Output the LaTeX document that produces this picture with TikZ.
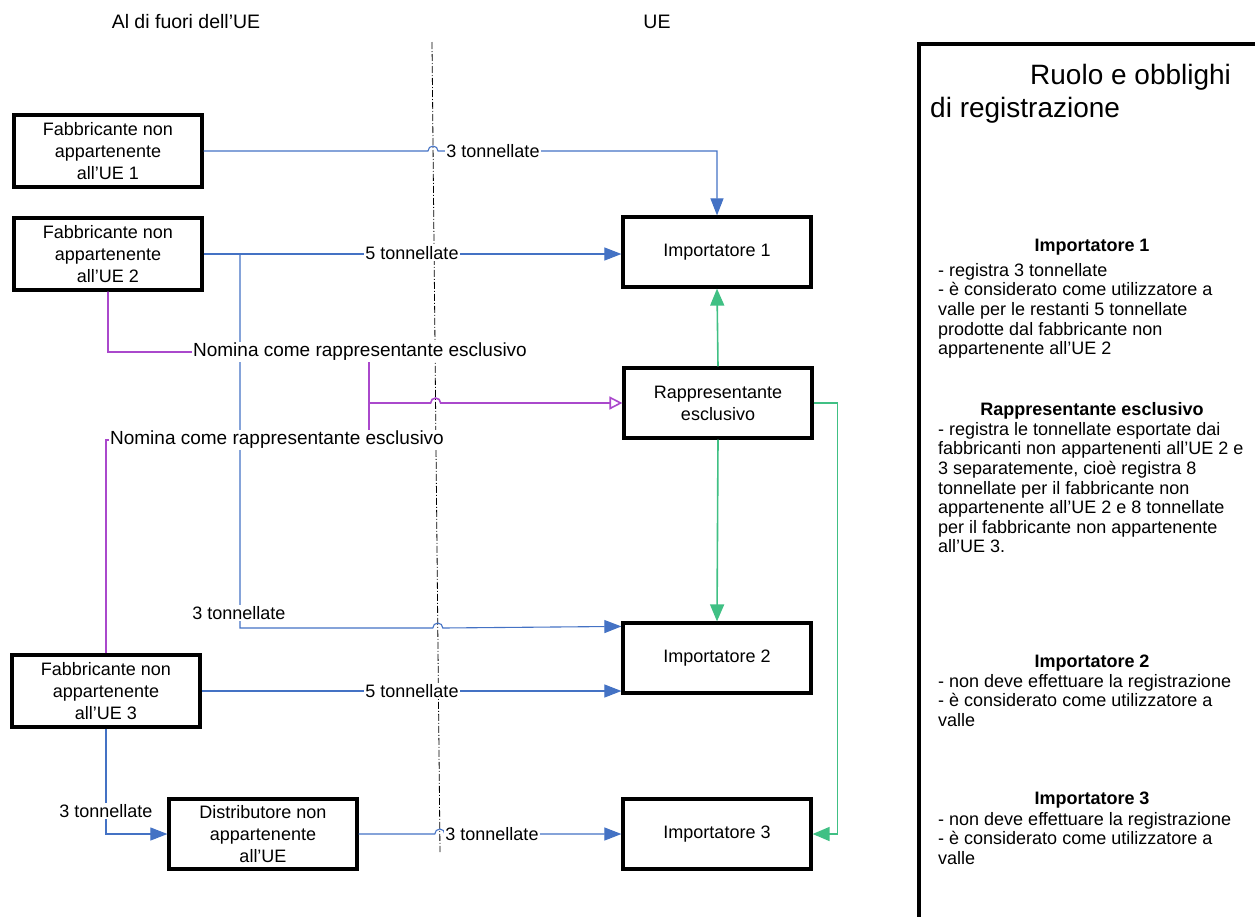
\documentclass[tikz,border=0pt]{standalone}
\usepackage{fontspec}
\setmainfont{Liberation Sans}
\usepackage{xcolor}
\usetikzlibrary{arrows.meta}

\definecolor{flussoblu}{RGB}{68,114,196}
\definecolor{nominaviola}{RGB}{170,72,204}
\definecolor{rapverde}{RGB}{64,192,132}

\begin{document}
\begin{tikzpicture}[x=1pt,y=-1pt,
	box/.style={draw,line width=3.2pt,minimum width=188pt,minimum height=70pt,inner sep=2pt,align=center,font=\fontsize{18}{22}\selectfont},
	lbl/.style={fill=white,inner sep=1pt,font=\fontsize{18}{22}\selectfont},
	hdr/.style={anchor=base,inner sep=0pt,font=\fontsize{18}{22}\selectfont\bfseries},
	body/.style={anchor=north west,inner sep=0pt,align=left,font=\fontsize{18}{19.6}\selectfont},
	flusso/.style={flussoblu,line width=1.1pt,-{Triangle[length=17pt,width=13pt]}},
	nomina/.style={nominaviola,line width=1.6pt},
	verde/.style={rapverde,line width=1.6pt,-{Triangle[length=17pt,width=14pt]}}
	]
	\useasboundingbox (0,0) rectangle (1255,916);
	
	% We will draw the two zones here
	\node[lbl,font=\fontsize{19.5}{22}\selectfont] (fuori) at (186,22) {Al di fuori dell’UE};
	\node[lbl,font=\fontsize{19.5}{22}\selectfont] (dentro) at (657,22) {UE};
	\coordinate (eutop) at (432,42);
	\coordinate (eubot) at (440,852);
	\draw[line width=0.8pt,dash pattern=on 7pt off 2pt on 1pt off 2pt] (eutop) -- (eubot);
	
	% boxes
	\node[box,minimum height=72pt] (f1) at (108,151) {Fabbricante non\\appartenente\\all’UE 1};
	\node[box,minimum height=72pt] (f2) at (108,254) {Fabbricante non\\appartenente\\all’UE 2};
	\node[box,minimum height=72pt] (f3) at (106,691) {Fabbricante non\\appartenente\\all’UE 3};
	\node[box] (dist) at (263,834) {Distributore non\\appartenente\\all’UE};
	\node[box] (imp1) at (717,252) {Importatore 1};
	\node[box] (rapp) at (718,403) {Rappresentante\\esclusivo};
	\node[box] (imp2) at (717,658) {Importatore 2};
	\node[box] (imp3) at (717,834) {Importatore 3};
	
	% blue flows
	\draw[flusso] (f1.east) -- (428,151) arc[start angle=180,end angle=0,radius=5pt] -- (717,151) -- (imp1.north);
	\draw[flusso] (f2.east) -- (f2.east -| imp1.west);
	\coordinate (bivio) at (240,254);
	\draw[flusso] (bivio) -- (240,628) -- (432.8,628) arc[start angle=180,end angle=0,radius=5pt] -- ([yshift=-5pt]imp2.north west);
	\draw[flusso] (f3.east) -- (f3.east -| imp2.west);
	\draw[flusso] (f3.south) |- (dist.west);
	\draw[flusso] (dist.east) -- (434.8,834) arc[start angle=180,end angle=0,radius=5pt] -- (imp3.west);
	
	% nomination
	\coordinate (giunto) at (369,403);
	\draw[nomina,-{Triangle[open,length=13pt,width=13pt]}] (f2.south) |- (369,352) -- (giunto) -- (430.6,403) arc[start angle=180,end angle=0,radius=5pt] -- (rapp.west);
	\draw[nomina] (f3.north) |- (369,440) -- (giunto);
	
	% green
	\draw[verde] (rapp.north) -- (imp1.south);
	\draw[verde] (rapp.south) -- (imp2.north);
	\draw[verde] (rapp.east) -- ++(24,0) |- (imp3.east);
	
	% labels on the lines
	\node[lbl] (t3a) at (493,151) {3 tonnellate};
	\node[lbl] (t5a) at (412,253) {5 tonnellate};
	\node[lbl] (t3b) at (239,613) {3 tonnellate};
	\node[lbl] (t5b) at (412,691) {5 tonnellate};
	\node[lbl] (t3c) at (106,811) {3 tonnellate};
	\node[lbl] (t3d) at (492,834) {3 tonnellate};
	\node[lbl,font=\fontsize{19}{22}\selectfont] (nom1) at (360,352) {Nomina come rappresentante esclusivo};
	\node[lbl,font=\fontsize{19}{22}\selectfont] (nom2) at (277,440) {Nomina come rappresentante esclusivo};
	
	% side panel
	\draw[line width=3.2pt] (919,930) -- (919,44) -- (1270,44);
	\node[anchor=base west,inner sep=0pt,align=left,font=\fontsize{28}{33}\selectfont] (titolo) at (930,117) {\hspace*{100pt}Ruolo e obblighi\\di registrazione};
	
	\node[hdr] (h1) at (1092,251) {Importatore 1};
	\node[body] (b1) at (938,263) {- registra 3 tonnellate\\- è considerato come utilizzatore a\\valle per le restanti 5 tonnellate\\prodotte dal fabbricante non\\appartenente all’UE 2};
	\node[hdr] (h2) at (1092,415) {Rappresentante esclusivo};
	\node[body] (b2) at (938,422) {- registra le tonnellate esportate dai\\fabbricanti non appartenenti all’UE 2 e\\3 separatemente, cioè registra 8\\tonnellate per il fabbricante non\\appartenente all’UE 2 e 8 tonnellate\\per il fabbricante non appartenente\\all’UE 3.};
	\node[hdr] (h3) at (1092,667) {Importatore 2};
	\node[body] (b3) at (938,674) {- non deve effettuare la registrazione\\- è considerato come utilizzatore a\\valle};
	\node[hdr] (h4) at (1092,804) {Importatore 3};
	\node[body] (b4) at (938,812) {- non deve effettuare la registrazione\\- è considerato come utilizzatore a\\valle};
\end{tikzpicture}
\end{document}
